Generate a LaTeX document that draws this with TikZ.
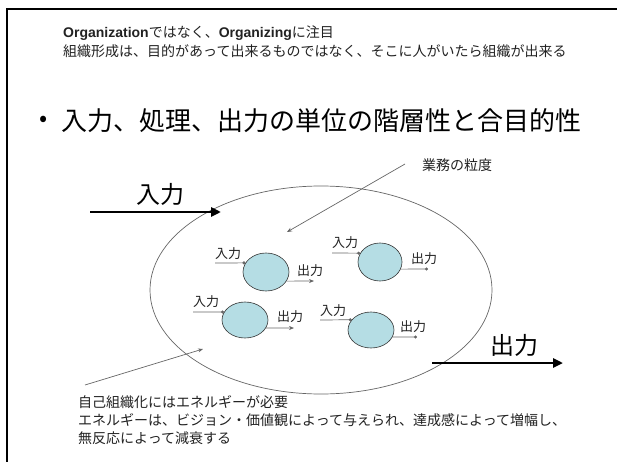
\documentclass[tikz,border=0pt]{standalone}
\usepackage{fontspec}
\setmainfont{Noto Sans CJK JP}
\newfontfamily\lat{Liberation Sans}
\usetikzlibrary{shapes.geometric,arrows.meta}
\definecolor{cellfill}{HTML}{B5DDE4}
\definecolor{txt}{HTML}{222222}
\definecolor{ln}{HTML}{666666}
\tikzset{
  small/.style={font=\fontsize{14}{14}\selectfont, text=txt, inner sep=0pt, anchor=west},
  bigtxt/.style={font=\fontsize{24}{24}\selectfont, text=black, inner sep=0pt},
  cell/.style={ellipse, draw=black!80, fill=cellfill, line width=0.6pt, inner sep=0pt},
  lbl/.style={font=\fontsize{13}{13}\selectfont, text=txt, inner sep=0pt, anchor=west},
  thin/.style={draw=ln, line width=0.7pt},
  dotend/.style={thin, -{Circle[length=3pt]}},
  arrend/.style={thin, -{Stealth[length=5pt,width=4pt]}},
  bigarrow/.style={draw=black, line width=2.6pt, -{Triangle[length=10pt,width=9pt]}},
}
\begin{document}
\begin{tikzpicture}[x=1pt,y=-1pt]
\useasboundingbox (0,0) rectangle (617,462);
% frame
\draw[line width=2.6pt] (7,462) -- (7,9) -- (617,9);
% top texts
\node[small] (t1) at (63,33) {{\lat\bfseries Organization}ではなく、{\lat\bfseries Organizing}に注目};
\node[small] (t2) at (63,51) {組織形成は、目的があって出来るものではなく、そこに人がいたら組織が出来る};
% title
\node[font=\fontsize{24}{24}\selectfont, inner sep=0pt] (bul) at (44,121) {•};
\node[font=\fontsize{26}{26}\selectfont, inner sep=0pt, anchor=west] (title) at (61,121) {入力、処理、出力の単位の階層性と合目的性};
% big ellipse
\node[ellipse, draw=ln, line width=0.7pt, minimum width=342pt, minimum height=208pt, inner sep=0pt] (org) at (321,290) {};
% grain label + pointer
\node[small] (grain) at (422,165) {業務の粒度};
\coordinate (gs) at (405,164);
\coordinate (ge) at (287,232);
\draw[arrend] (gs) -- (ge);
% big in/out
\coordinate (bin0) at (90,212);
\coordinate (bin1) at (221,212);
\draw[bigarrow] (bin0) -- (bin1);
\node[bigtxt] (inlab) at (160,194) {入力};
\coordinate (bout0) at (432,363);
\coordinate (bout1) at (563,363);
\draw[bigarrow] (bout0) -- (bout1);
\node[bigtxt] (outlab) at (514,345) {出力};
% energy pointer
\coordinate (es) at (85,385);
\coordinate (ee) at (203,349);
\draw[arrend] (es) -- (ee);
% cells
\node[cell, minimum width=46pt, minimum height=38pt] (A) at (266,272) {};
\node[cell, minimum width=44pt, minimum height=38pt] (B) at (380,262) {};
\node[cell, minimum width=46pt, minimum height=36pt] (C) at (245,320) {};
\node[cell, minimum width=46pt, minimum height=36pt] (D) at (371,330) {};
% cell A
\node[lbl] (Ain) at (215,254) {入力};
\coordinate (Ai) at (215,263);
\draw[dotend] (Ai) -- (A.156);
\node[lbl] (Aout) at (297,271) {出力};
\coordinate (Ao) at (314,281);
\draw[arrend] (A.-24) -- (Ao);
% cell B
\node[lbl] (Bin) at (332,243) {入力};
\coordinate (Bi) at (332,253);
\draw[dotend] (Bi) -- (B.156);
\node[lbl] (Bout) at (411,259) {出力};
\coordinate (Bo) at (428,269);
\draw[dotend] (B.-19) -- (Bo);
% cell C
\node[lbl] (Cin) at (193,302) {入力};
\coordinate (Ci) at (193,312);
\draw[dotend] (Ci) -- (C.159);
\node[lbl] (Cout) at (277,317) {出力};
\coordinate (Co) at (294,328);
\draw[arrend] (C.-21) -- (Co);
% cell D
\node[lbl] (Din) at (320,311) {入力};
\coordinate (Di) at (320,320);
\draw[dotend] (Di) -- (D.152);
\node[lbl] (Dout) at (400,327) {出力};
\coordinate (Do) at (417,337);
\draw[dotend] (D.-18) -- (Do);
% bottom texts
\node[small] (b1) at (78,402) {自己組織化にはエネルギーが必要};
\node[small] (b2) at (78,420) {エネルギーは、ビジョン・価値観によって与えられ、達成感によって増幅し、};
\node[small] (b3) at (78,438) {無反応によって減衰する};
\end{tikzpicture}
\end{document}
